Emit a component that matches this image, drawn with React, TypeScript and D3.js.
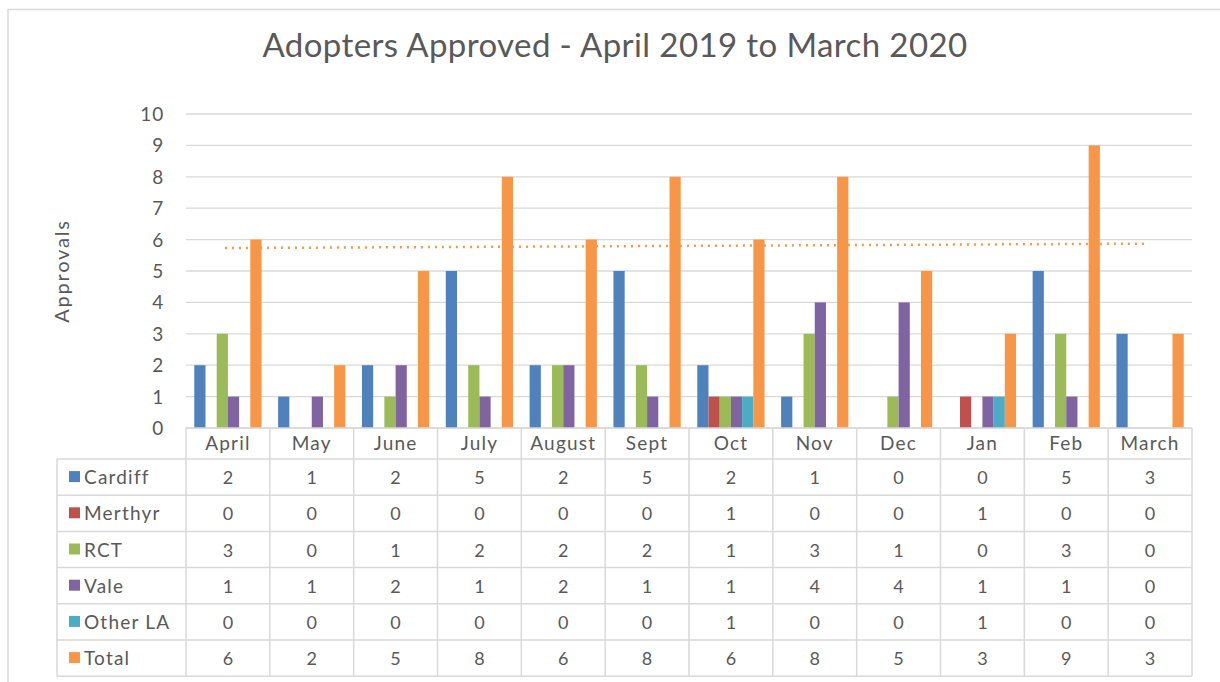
import React, { useEffect, useRef } from "react";
import * as d3 from "d3";

const months = ["April", "May", "June", "July", "August", "Sept", "Oct", "Nov", "Dec", "Jan", "Feb", "March"];
const seriesNames = ["Cardiff", "Merthyr", "RCT", "Vale", "Other LA", "Total"];
const cardiff = [2, 1, 2, 5, 2, 5, 2, 1, 0, 0, 5, 3];
const merthyr = [0, 0, 0, 0, 0, 0, 1, 0, 0, 1, 0, 0];
const rct = [3, 0, 1, 2, 2, 2, 1, 3, 1, 0, 3, 0];
const vale = [1, 1, 2, 1, 2, 1, 1, 4, 4, 1, 1, 0];
const otherLA = [0, 0, 0, 0, 0, 0, 1, 0, 0, 1, 0, 0];
const total = [6, 2, 5, 8, 6, 8, 6, 8, 5, 3, 9, 3];
// linear trend of Total, read at first and last month
const trendTotal = [5.73, 5.87];
const yTicks = [0, 1, 2, 3, 4, 5, 6, 7, 8, 9, 10];
const colors = ["#4F81BD", "#C0504D", "#9BBB59", "#8064A2", "#4BACC6", "#F79646"];

const FONT = "Lato, 'Open Sans', sans-serif";
const TEXT = "#595959";
const GRID = "#d9d9d9";

const AdoptersChart = () => {
  const svgRef = useRef(null);

  useEffect(() => {
    const svg = d3.select(svgRef.current);
    svg.selectAll("*").remove();

    const width = 1220;
    const height = 682;
    const left = 186, right = 1192, top = 114, bottom = 428;
    const tableLeft = 57;
    const headerBottom = 459;
    const rowH = 36.2;
    const values = [cardiff, merthyr, rct, vale, otherLA, total];

    svg.attr("width", width).attr("height", height);

    // outer frame
    svg.append("rect")
      .attr("x", 8).attr("y", 9.5)
      .attr("width", 1230).attr("height", 690)
      .attr("fill", "#fff").attr("stroke", GRID).attr("stroke-width", 1.5);

    // title
    svg.append("text")
      .attr("x", 615).attr("y", 57)
      .attr("text-anchor", "middle")
      .style("font-family", FONT).style("font-size", "33px")
      .style("letter-spacing", "0.4px")
      .attr("fill", TEXT)
      .text("Adopters Approved - April 2019 to March 2020");

    const x0 = d3.scaleBand().domain(months).range([left, right]).padding(0);
    const x1 = d3.scaleBand().domain(seriesNames).range([0, x0.bandwidth()]).paddingInner(0).paddingOuter(0.74);
    const y = d3.scaleLinear().domain([0, 10]).range([bottom, top]);

    // gridlines
    svg.append("g").selectAll("line").data(yTicks).join("line")
      .attr("x1", left).attr("x2", right)
      .attr("y1", d => y(d)).attr("y2", d => y(d))
      .attr("stroke", GRID).attr("stroke-width", 1.3);

    // y tick labels
    svg.append("g").selectAll("text").data(yTicks).join("text")
      .attr("x", 164).attr("y", d => y(d) + 7)
      .attr("text-anchor", "end")
      .style("font-family", FONT).style("font-size", "19px")
      .style("letter-spacing", "0.8px")
      .attr("fill", TEXT)
      .text(d => d);

    // y axis title
    svg.append("text")
      .attr("transform", `translate(69,${(top + bottom) / 2}) rotate(-90)`)
      .attr("text-anchor", "middle")
      .style("font-family", FONT).style("font-size", "20px")
      .style("letter-spacing", "1.8px")
      .attr("fill", TEXT)
      .text("Approvals");

    // bars
    const bars = svg.append("g");
    seriesNames.forEach((s, si) => {
      bars.append("g").selectAll("rect").data(values[si]).join("rect")
        .attr("x", (d, i) => x0(months[i]) + x1(s))
        .attr("width", x1.bandwidth())
        .attr("y", d => y(d))
        .attr("height", d => y(0) - y(d))
        .attr("fill", colors[si]);
    });

    // trendline
    const trendX = [months[0], months[months.length - 1]];
    svg.append("path")
      .datum(trendTotal)
      .attr("fill", "none")
      .attr("stroke", "#F79646")
      .attr("stroke-width", 2.5)
      .attr("stroke-dasharray", "2,5")
      .attr("d", d3.line()
        .x((d, i) => x0(trendX[i]) + x0.bandwidth() / 2 - 3)
        .y(d => y(d)));

    // data table
    const table = svg.append("g");
    const tableBottom = headerBottom + rowH * seriesNames.length;

    // horizontal lines
    table.append("line")
      .attr("x1", left).attr("x2", right).attr("y1", bottom).attr("y2", bottom)
      .attr("stroke", GRID).attr("stroke-width", 1.5);
    d3.range(seriesNames.length + 1).forEach(r => {
      table.append("line")
        .attr("x1", tableLeft).attr("x2", right)
        .attr("y1", headerBottom + r * rowH).attr("y2", headerBottom + r * rowH)
        .attr("stroke", GRID).attr("stroke-width", 1.5);
    });
    // vertical lines
    table.append("line")
      .attr("x1", tableLeft).attr("x2", tableLeft).attr("y1", headerBottom).attr("y2", tableBottom)
      .attr("stroke", GRID).attr("stroke-width", 1.5);
    [...months.map(m => x0(m)), right].forEach(xv => {
      table.append("line")
        .attr("x1", xv).attr("x2", xv).attr("y1", bottom).attr("y2", tableBottom)
        .attr("stroke", GRID).attr("stroke-width", 1.5);
    });

    // month labels
    table.selectAll("text.month").data(months).join("text")
      .attr("class", "month")
      .attr("x", d => x0(d) + x0.bandwidth() / 2)
      .attr("y", (bottom + headerBottom) / 2 + 6)
      .attr("text-anchor", "middle")
      .style("font-family", FONT).style("font-size", "19px")
      .style("letter-spacing", "1.2px")
      .attr("fill", TEXT)
      .text(d => d);

    // rows
    seriesNames.forEach((s, si) => {
      const cy = headerBottom + rowH * si + rowH / 2;
      table.append("rect")
        .attr("x", 69).attr("y", cy - 6)
        .attr("width", 11).attr("height", 11)
        .attr("fill", colors[si]);
      table.append("text")
        .attr("x", 84).attr("y", cy + 7)
        .style("font-family", FONT).style("font-size", "19px")
        .style("letter-spacing", "1.2px")
        .attr("fill", TEXT)
        .text(s);
      table.append("g").selectAll("text").data(values[si]).join("text")
        .attr("x", (d, i) => x0(months[i]) + x0.bandwidth() / 2)
        .attr("y", cy + 7)
        .attr("text-anchor", "middle")
        .style("font-family", FONT).style("font-size", "18px")
        .attr("fill", TEXT)
        .text(d => d);
    });
  }, []);

  return <svg ref={svgRef} style={{ position: "absolute", left: 0, top: 0 }}></svg>;
};

export default function App() {
  return <AdoptersChart />;
}
